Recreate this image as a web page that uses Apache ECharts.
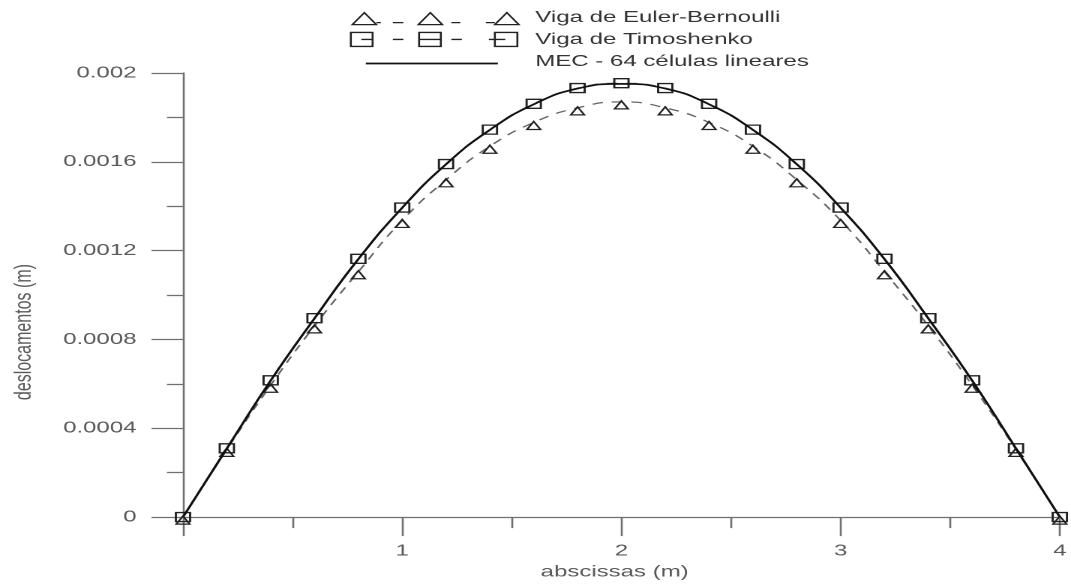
<!DOCTYPE html>
<html>
<head>
<meta charset="utf-8">
<title>Deslocamentos da viga</title>
<script src="https://cdn.jsdelivr.net/npm/echarts@6/dist/echarts.min.js"></script>
<style>
html, body { margin: 0; padding: 0; background: #fff; overflow: hidden; }
/* the original picture is stretched sideways, so draw narrow and widen it */
#chart { width: 714px; height: 585px; transform: scaleX(1.5); transform-origin: 0 0; }
</style>
</head>
<body>
<div id="chart"></div>
<script>
// abscissas (m)
var abscissas = [0, 0.2, 0.4, 0.6, 0.8, 1, 1.2, 1.4, 1.6, 1.8, 2, 2.2, 2.4, 2.6, 2.8, 3, 3.2, 3.4, 3.6, 3.8, 4];
// deslocamentos (m)
var eulerBernoulli = [0, 0.000305, 0.000594, 0.000861, 0.001105, 0.001336, 0.001519, 0.001670, 0.001777, 0.001843, 0.001870,
                      0.001843, 0.001777, 0.001670, 0.001519, 0.001336, 0.001105, 0.000861, 0.000594, 0.000305, 0];
var timoshenko = [0, 0.000310, 0.000616, 0.000896, 0.001163, 0.001394, 0.001590, 0.001745, 0.001861, 0.001932, 0.001954,
                  0.001932, 0.001861, 0.001745, 0.001590, 0.001394, 0.001163, 0.000896, 0.000616, 0.000310, 0];
var mec64 = [0, 0.000309, 0.000615, 0.000895, 0.001162, 0.001393, 0.001589, 0.001744, 0.001859, 0.001930, 0.001951,
             0.001930, 0.001859, 0.001744, 0.001589, 0.001393, 0.001162, 0.000895, 0.000615, 0.000309, 0];
var seriesNames = ['Viga de Euler-Bernoulli', 'Viga de Timoshenko', 'MEC - 64 células lineares'];

function pairs(values) {
  return abscissas.map(function (x, i) { return [x, values[i]]; });
}

var font = 'Liberation Sans, Arial, sans-serif';
var axisGray = '#707070';
var labelGray = '#5a5a5a';

// legend keys: symbols and dashes like the original key
var iconEuler = 'path://M0 0 M118 16 M1 15 L9 3 L17 15 Z M17 13 L20 13 M28 13 L35 13 M45 15 L53 3 L61 15 Z M67 13 L73 13 M90 13 L96 13 M96 15 L104 3 L112 15 Z';
var iconTimo = 'path://M0 0 M118 16 M0 1 L14.5 1 L14.5 15 L0 15 Z M7 8 L14.5 8 M28 8 L35 8 M45.5 1 L60 1 L60 15 L45.5 15 Z M45.5 8 L60 8 M67 8 L74 8 M92 8 L103 8 M96 1 L111 1 L111 15 L96 15 Z';
var iconMec = 'path://M0 0 M118 16 M10 10 L98 10';

var chart = echarts.init(document.getElementById('chart'), null, { devicePixelRatio: 2 });

var option = {
  animation: false,
  backgroundColor: '#fff',
  textStyle: { fontFamily: font },
  legend: {
    orient: 'vertical',
    left: 233,
    top: 9,
    padding: 0,
    itemWidth: 118,
    itemHeight: 16,
    itemGap: 4.5,
    selectedMode: false,
    textStyle: { fontSize: 16, color: '#333', fontFamily: font },
    data: [
      { name: seriesNames[0], icon: iconEuler, itemStyle: { color: 'rgba(0,0,0,0)', borderColor: '#222', borderWidth: 1.3 } },
      { name: seriesNames[1], icon: iconTimo, itemStyle: { color: 'rgba(0,0,0,0)', borderColor: '#222', borderWidth: 1.3 } },
      { name: seriesNames[2], icon: iconMec, itemStyle: { color: 'rgba(0,0,0,0)', borderColor: '#111', borderWidth: 1.8 } }
    ]
  },
  grid: { left: 120.7, right: 3.3, top: 73, bottom: 62.3, containLabel: false },
  xAxis: {
    type: 'value',
    min: 0,
    max: 4,
    interval: 1,
    name: 'abscissas (m)',
    nameLocation: 'middle',
    nameGap: 42,
    nameTextStyle: { fontSize: 16, color: labelGray, fontFamily: font, padding: [0, 9, 0, 0] },
    axisLine: { show: true, onZero: false, lineStyle: { color: axisGray, width: 1.3 } },
    axisTick: { show: true, length: 19, lineStyle: { color: axisGray, width: 1.3 } },
    minorTick: { show: true, splitNumber: 2, length: 11, lineStyle: { color: axisGray, width: 1.3 } },
    axisLabel: {
      margin: 26,
      fontSize: 16,
      color: labelGray,
      fontFamily: font,
      formatter: function (v) { return v === 0 ? '' : String(v); }
    },
    splitLine: { show: false }
  },
  yAxis: {
    type: 'value',
    min: 0,
    max: 0.002,
    interval: 0.0004,
    name: 'deslocamentos (m)',
    nameLocation: 'middle',
    nameGap: 98,
    nameRotate: 90,
    nameTextStyle: { fontSize: 16, color: labelGray, fontFamily: font, padding: [0, 74, 0, 0] },
    axisLine: { show: true, onZero: false, lineStyle: { color: axisGray, width: 1.3 } },
    axisTick: { show: true, length: 21, lineStyle: { color: axisGray, width: 1.3 } },
    minorTick: { show: true, splitNumber: 2, length: 10.7, lineStyle: { color: axisGray, width: 1.3 } },
    axisLabel: { margin: 31, fontSize: 16, color: labelGray, fontFamily: font },
    splitLine: { show: false }
  },
  series: [
    {
      name: seriesNames[0],
      type: 'line',
      data: pairs(eulerBernoulli),
      smooth: true,
      silent: true,
      symbol: 'triangle',
      symbolSize: [9, 8],
      symbolOffset: [0, 3],
      showAllSymbol: true,
      itemStyle: { color: 'rgba(0,0,0,0)', borderColor: '#222', borderWidth: 1.3 },
      lineStyle: { color: '#666', width: 1.3, type: [7, 6] },
      z: 2
    },
    {
      name: seriesNames[1],
      type: 'line',
      data: pairs(timoshenko),
      smooth: true,
      silent: true,
      symbol: 'rect',
      symbolSize: [9.5, 9],
      showAllSymbol: true,
      itemStyle: { color: 'rgba(0,0,0,0)', borderColor: '#222', borderWidth: 1.4 },
      lineStyle: { color: '#888', width: 1.3, type: [7, 6] },
      z: 3
    },
    {
      name: seriesNames[2],
      type: 'line',
      data: pairs(mec64),
      smooth: true,
      silent: true,
      symbol: 'none',
      itemStyle: { color: '#111' },
      lineStyle: { color: '#111', width: 1.7 },
      z: 4
    }
  ]
};

chart.setOption(option);
</script>
</body>
</html>
